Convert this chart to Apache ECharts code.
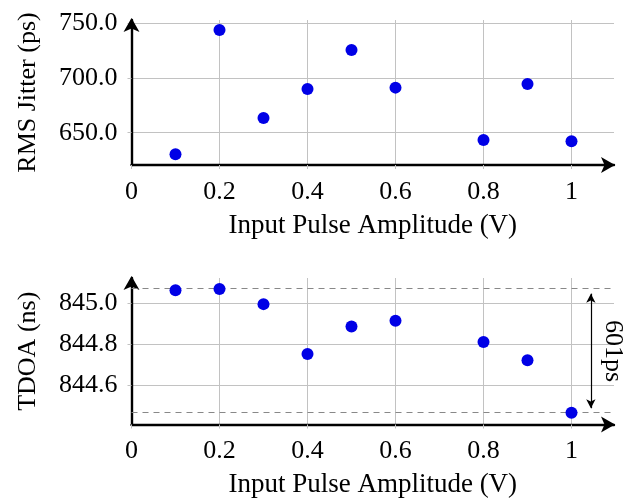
<!DOCTYPE html>
<html>
<head>
<meta charset="utf-8">
<script src="https://cdn.jsdelivr.net/npm/echarts@6/dist/echarts.min.js"></script>
<style>
  html, body { margin: 0; padding: 0; background: #fff; }
  #chart { width: 633px; height: 499px; }
</style>
</head>
<body>
<div id="chart"></div>
<script>
  // input pulse amplitude (V), no point at 0.7
  var amplitude = [0.1, 0.2, 0.3, 0.4, 0.5, 0.6, 0.8, 0.9, 1.0];
  // RMS jitter (ps)
  var jitterPs = [630.4, 743.9, 663.4, 690.0, 725.6, 691.2, 643.3, 694.6, 642.3];
  // TDOA (ns)
  var tdoaNs = [845.062, 845.068, 844.995, 844.753, 844.886, 844.914, 844.811, 844.722, 844.467];

  var FONT = '"Liberation Serif", "DejaVu Serif", serif';
  var BLUE = '#0000e6';
  var GRID_GREY = '#c2c2c2';

  function pairs(xs, ys) {
    return xs.map(function (x, i) { return [x, ys[i]]; });
  }

  var tdoaMax = Math.max.apply(null, tdoaNs);
  var tdoaMin = Math.min.apply(null, tdoaNs);
  var spreadLabel = Math.round((tdoaMax - tdoaMin) * 1000) + 'ps';
  var arrowX = 1.044;
  var arrowPad = 0.022; // half an arrow head, in ns

  function xAxisCfg(gridIndex) {
    return {
      type: 'value',
      gridIndex: gridIndex,
      min: 0,
      max: 1.0966,
      splitNumber: 5,
      name: 'Input Pulse Amplitude (V)',
      nameLocation: 'middle',
      nameGap: 47,
      nameMoveOverlap: false,
      nameTextStyle: { fontFamily: FONT, fontSize: 27, color: '#000' },
      axisLine: {
        show: true,
        onZero: false,
        symbol: ['none', 'arrow'],
        symbolSize: [12, 14],
        symbolOffset: [0, 1],
        lineStyle: { color: '#000', width: 2.4 }
      },
      axisTick: { show: true, inside: false, length: 4, lineStyle: { color: GRID_GREY, width: 1 } },
      axisLabel: {
        margin: 14,
        fontFamily: FONT, fontSize: 26, color: '#000',
        showMinLabel: true, showMaxLabel: false
      },
      splitLine: { show: true, showMinLine: false, showMaxLine: false, lineStyle: { color: GRID_GREY, width: 1 } }
    };
  }

  function yAxisCfg(gridIndex, name, min, max, digits) {
    return {
      type: 'value',
      gridIndex: gridIndex,
      min: min,
      max: max,
      splitNumber: 3,
      name: name,
      nameLocation: 'middle',
      nameGap: 90,
      nameMoveOverlap: false,
      nameTextStyle: { fontFamily: FONT, fontSize: 26, color: '#000' },
      axisLine: {
        show: true,
        onZero: false,
        symbol: ['none', 'arrow'],
        symbolSize: [12, 14],
        symbolOffset: [0, 2],
        lineStyle: { color: '#000', width: 2.4 }
      },
      axisTick: { show: true, inside: false, length: 4, lineStyle: { color: GRID_GREY, width: 1 } },
      axisLabel: {
        margin: 14,
        fontFamily: FONT, fontSize: 26, color: '#000',
        showMinLabel: false, showMaxLabel: false,
        formatter: function (v) { return v.toFixed(digits); }
      },
      splitLine: { show: true, showMinLine: false, showMaxLine: false, lineStyle: { color: GRID_GREY, width: 1 } }
    };
  }

  var option = {
    backgroundColor: '#fff',
    animation: false,
    grid: [
      { left: 131.5, right: 19, top: 20, height: 145, containLabel: false, outerBoundsMode: 'none' },
      { left: 131.5, right: 19, top: 278, height: 146.5, containLabel: false, outerBoundsMode: 'none' }
    ],
    xAxis: [xAxisCfg(0), xAxisCfg(1)],
    yAxis: [
      yAxisCfg(0, 'RMS Jitter (ps)', 620.5, 753, 1),
      yAxisCfg(1, 'TDOA (ns)', 844.41, 845.122, 1)
    ],
    series: [
      {
        type: 'scatter',
        xAxisIndex: 0, yAxisIndex: 0,
        data: pairs(amplitude, jitterPs),
        symbol: 'circle', symbolSize: 12,
        itemStyle: { color: BLUE, opacity: 1 },
        z: 5
      },
      {
        type: 'scatter',
        xAxisIndex: 1, yAxisIndex: 1,
        data: pairs(amplitude, tdoaNs),
        symbol: 'circle', symbolSize: 12,
        itemStyle: { color: BLUE, opacity: 1 },
        z: 5,
        markLine: {
          silent: true,
          symbol: ['none', 'none'],
          label: { show: false },
          lineStyle: { type: [6, 5], color: '#888', width: 1.2 },
          data: [{ yAxis: tdoaMax }, { yAxis: tdoaMin }]
        }
      },
      {
        type: 'scatter',
        xAxisIndex: 1, yAxisIndex: 1,
        data: [],
        markLine: {
          silent: true,
          symbol: ['arrow', 'arrow'],
          symbolSize: [7, 9],
          lineStyle: { type: 'solid', color: '#000', width: 1.2 },
          label: {
            show: true,
            position: 'middle',
            distance: 9,
            formatter: spreadLabel,
            fontFamily: FONT, fontSize: 26, color: '#000'
          },
          data: [[
            { coord: [arrowX, tdoaMax - arrowPad] },
            { coord: [arrowX, tdoaMin + arrowPad] }
          ]]
        }
      }
    ]
  };

  var chart = echarts.init(document.getElementById('chart'), null, { renderer: 'canvas' });
  chart.setOption(option);
</script>
</body>
</html>
